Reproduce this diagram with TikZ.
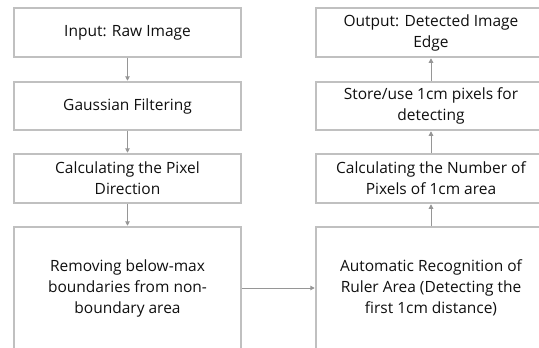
\documentclass[tikz,border=0pt]{standalone}
\usepackage{fontspec}
\setmainfont{Open Sans}
\usetikzlibrary{arrows.meta}
\begin{document}
\begin{tikzpicture}[x=1pt,y=-1pt,
  box/.style={draw=boxgray, line width=1.3pt, rectangle, inner sep=0pt,
    align=center, font=\fontsize{15.5}{21}\selectfont, text=textdark},
  link/.style={draw=linkgray, line width=1pt, shorten >=0.6pt,
    -{Triangle[length=4.5pt,width=4.5pt]}}]
\definecolor{boxgray}{RGB}{192,192,192}
\definecolor{linkgray}{RGB}{150,150,150}
\definecolor{textdark}{RGB}{15,15,15}
\useasboundingbox (0,0) rectangle (539,348);
\clip (0,0) rectangle (539,348);
% left column: processing steps, top to bottom
\node[box, minimum width=227pt, minimum height=49pt] (raw) at (127.5,32.5) {Input: Raw Image};
\node[box, minimum width=227pt, minimum height=48pt] (gauss) at (127.5,106) {Gaussian Filtering};
\node[box, minimum width=227pt, minimum height=49pt] (dir) at (127.5,178.5) {Calculating the Pixel\\Direction};
\node[box, minimum width=227pt, minimum height=122pt] (nms) at (127.5,288) {Removing below-max\\boundaries from non-\\boundary area};
% right column: steps, bottom to top
\node[box, minimum width=230pt, minimum height=122pt] (ruler) at (431,288) {Automatic Recognition of\\Ruler Area (Detecting the\\first 1cm distance)};
\node[box, minimum width=230pt, minimum height=49pt] (count) at (431,178.5) {Calculating the Number of\\Pixels of 1cm area};
\node[box, minimum width=230pt, minimum height=48pt] (store) at (431,106) {Store/use 1cm pixels for\\detecting};
\node[box, minimum width=230pt, minimum height=49pt] (out) at (431,32.5) {Output: Detected Image\\Edge};
% connectors
\draw[link] (raw) -- (gauss);
\draw[link] (gauss) -- (dir);
\draw[link] (dir) -- (nms);
\draw[link] (nms) -- (ruler);
\draw[link] (ruler) -- (count);
\draw[link] (count) -- (store);
\draw[link] (store) -- (out);
\end{tikzpicture}
\end{document}
